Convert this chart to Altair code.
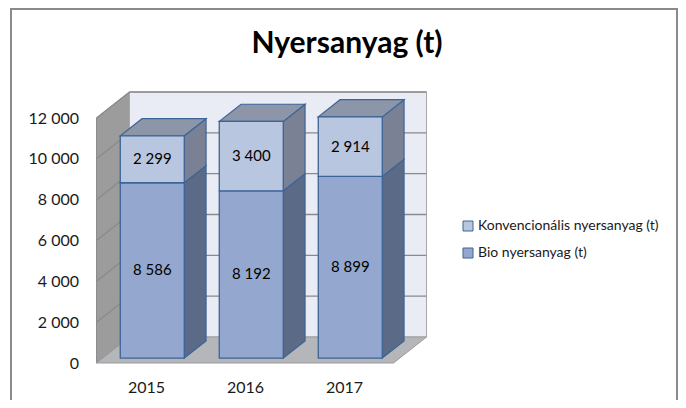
import altair as alt
import pandas as pd

# ---------------- data ----------------
years = [2015, 2016, 2017]
bio = [8586, 8192, 8899]
konv = [2299, 3400, 2914]
series_names = ["Konvencionális nyersanyag (t)", "Bio nyersanyag (t)"]
y_ticks = [0, 2000, 4000, 6000, 8000, 10000, 12000]
title_text = "Nyersanyag (t)"

# ---------------- style / geometry constants ----------------
W, H = 297, 245
X0, X1 = 2014.5, 2017.5
YMAX = 12000
UX = (X1 - X0) / W          # x units per pixel
UY = YMAX / H               # y units per pixel
DXW = 33 * UX               # depth vector of the 3D box (x)
DYW = 26 * UY               # depth vector of the 3D box (y)
KF, KB = 0.19, 0.85         # front / back depth of the columns
HALF = 32 * UX              # half column width

FONT = "Lato"
BIO_FRONT = "#94a8cf"
BIO_SIDE = "#5b6a86"
KONV_FRONT = "#b9c6e0"
KONV_SIDE = "#7a8194"
KONV_TOP = "#8d95a8"
OUTLINE = "#3d6496"
BACK_WALL = "#e9ecf4"
SIDE_WALL = "#9c9c9c"
FLOOR = "#b4b6b9"
GRID = "#8a8a8a"

# ---------------- derived tables ----------------
seg_rows, side_rows, top_rows = [], [], []
for i, yr in enumerate(years):
    total = bio[i] + konv[i]
    segs = [(series_names[1], 0, bio[i], bio[i]),
            (series_names[0], bio[i], total, konv[i])]
    for name, b, t, val in segs:
        seg_rows.append(dict(series=name,
                             x=yr - HALF + KF * DXW, x2=yr + HALF + KF * DXW,
                             y=b + KF * DYW, y2=t + KF * DYW, val=val,
                             xc=yr + KF * DXW, yc=(b + t) / 2 + KF * DYW))
        fid = f"{name}-{yr}"
        for k in (KF, KB):
            side_rows.append(dict(series=name, fid=fid, x=yr + HALF + k * DXW,
                                  lo=b + k * DYW, hi=t + k * DYW))
    tf, tb = total + KF * DYW, total + KB * DYW
    for xx, lo, hi in [(yr - HALF + KF * DXW, tf, tf),
                       (yr - HALF + KB * DXW, tf, tb),
                       (yr + HALF + KF * DXW, tf, tb),
                       (yr + HALF + KB * DXW, tb, tb)]:
        top_rows.append(dict(fid=f"top-{yr}", x=xx, lo=lo, hi=hi))

seg_df = pd.DataFrame(seg_rows)
side_df = pd.DataFrame(side_rows)
top_df = pd.DataFrame(top_rows)

left_wall_df = pd.DataFrame([dict(fid="lw", x=X0, lo=0, hi=YMAX),
                             dict(fid="lw", x=X0 + DXW, lo=DYW, hi=YMAX + DYW)])
floor_df = pd.DataFrame([dict(fid="fl", x=X0, lo=0, hi=0),
                         dict(fid="fl", x=X0 + DXW, lo=0, hi=DYW),
                         dict(fid="fl", x=X1, lo=0, hi=DYW),
                         dict(fid="fl", x=X1 + DXW, lo=DYW, hi=DYW)])
back_df = pd.DataFrame([dict(x=X0 + DXW, x2=X1 + DXW, y=DYW, y2=YMAX + DYW)])
grid_df = pd.DataFrame(
    [dict(x=X0 + DXW, x2=X1 + DXW, y=v + DYW, y2=v + DYW) for v in y_ticks[1:]]
    + [dict(x=X0, x2=X0 + DXW, y=v, y2=v + DYW) for v in y_ticks[1:]])

# ---------------- scales / axes ----------------
XS = alt.Scale(domain=[X0, X1], nice=False, zero=False)
YS = alt.Scale(domain=[0, YMAX], nice=False, zero=False)
XAX = alt.Axis(values=years, format="d", title=None, domain=False, ticks=False,
               tickSize=0, grid=False, labelFont=FONT, labelFontSize=16,
               labelColor="#1a1a1a", labelPadding=16, labelFlush=False)
YAX = alt.Axis(values=y_ticks, labelExpr="replace(format(datum.value, ','), ',', ' ')",
               title=None, domain=False, ticks=False, tickSize=0, grid=False,
               labelFont=FONT, labelFontSize=16, labelColor="#1a1a1a",
               labelPadding=18, labelFlush=False)


def X(f):
    return alt.X(f, type="quantitative", scale=XS, axis=XAX)


def Y(f):
    return alt.Y(f, type="quantitative", scale=YS, axis=YAX, stack=False)


def area_layer(df, fill, stroke, sw=1.0):
    return alt.Chart(df).mark_area(orient="vertical", fill=fill, stroke=stroke,
                                   strokeWidth=sw, interpolate="linear").encode(
        x=X("x"), y=Y("lo"), y2="hi", detail="fid:N")


border = alt.Chart(pd.DataFrame({"k": [0]})).mark_rect(
    fillOpacity=0, stroke="#8a8a8a", strokeWidth=2).encode(
    x=alt.value(-85.5), x2=alt.value(580.5), y=alt.value(-109), y2=alt.value(300))

left_wall = area_layer(left_wall_df, SIDE_WALL, "#8c8c8c", 1)
back_wall = alt.Chart(back_df).mark_rect(fill=BACK_WALL, stroke="#a8a8a8", strokeWidth=1).encode(
    x=X("x"), x2="x2", y=Y("y"), y2="y2")
grid = alt.Chart(grid_df).mark_rule(color=GRID, strokeWidth=1.3).encode(
    x=X("x"), x2="x2", y=Y("y"), y2="y2")
floor = area_layer(floor_df, FLOOR, "#9a9a9a", 1)

side_bio = area_layer(side_df[side_df.series == series_names[1]], BIO_SIDE, OUTLINE, 1.2)
side_konv = area_layer(side_df[side_df.series == series_names[0]], KONV_SIDE, OUTLINE, 1.2)
top = area_layer(top_df, KONV_TOP, OUTLINE, 1.2)

front = alt.Chart(seg_df).mark_rect(stroke=OUTLINE, strokeWidth=1.3).encode(
    x=X("x"), x2="x2", y=Y("y"), y2="y2",
    fill=alt.Fill("series:N",
                  scale=alt.Scale(domain=series_names, range=[KONV_FRONT, BIO_FRONT]),
                  legend=alt.Legend(orient="none", legendX=364.5, legendY=101,
                                    title=None, symbolType="square", symbolSize=100,
                                    symbolStrokeColor=OUTLINE, symbolStrokeWidth=1,
                                    labelFont=FONT, labelFontSize=14, labelLimit=400,
                                    labelColor="#1a1a1a", rowPadding=13,
                                    labelOffset=3)))

labels = alt.Chart(seg_df).transform_calculate(
    lab="replace(format(datum.val, ','), ',', ' ')").mark_text(
    font=FONT, fontSize=15, color="#000000", baseline="middle", align="center").encode(
    x=X("xc"), y=Y("yc"), text="lab:N")

chart = alt.layer(border, left_wall, back_wall, grid, floor,
                  side_bio, side_konv, top, front, labels).properties(
    width=W, height=H,
    autosize=alt.AutoSizeParams(type="none"),
    padding={"left": 88.5, "top": 110, "right": 284.5, "bottom": 37},
    title=alt.TitleParams(title_text, font=FONT, fontSize=30, fontWeight="bold",
                          color="#000000", anchor="middle", frame="group",
                          dx=102, offset=-51),
).configure_view(strokeWidth=0)

chart.save("out.html", embed_options={"renderer": "svg", "actions": False})
